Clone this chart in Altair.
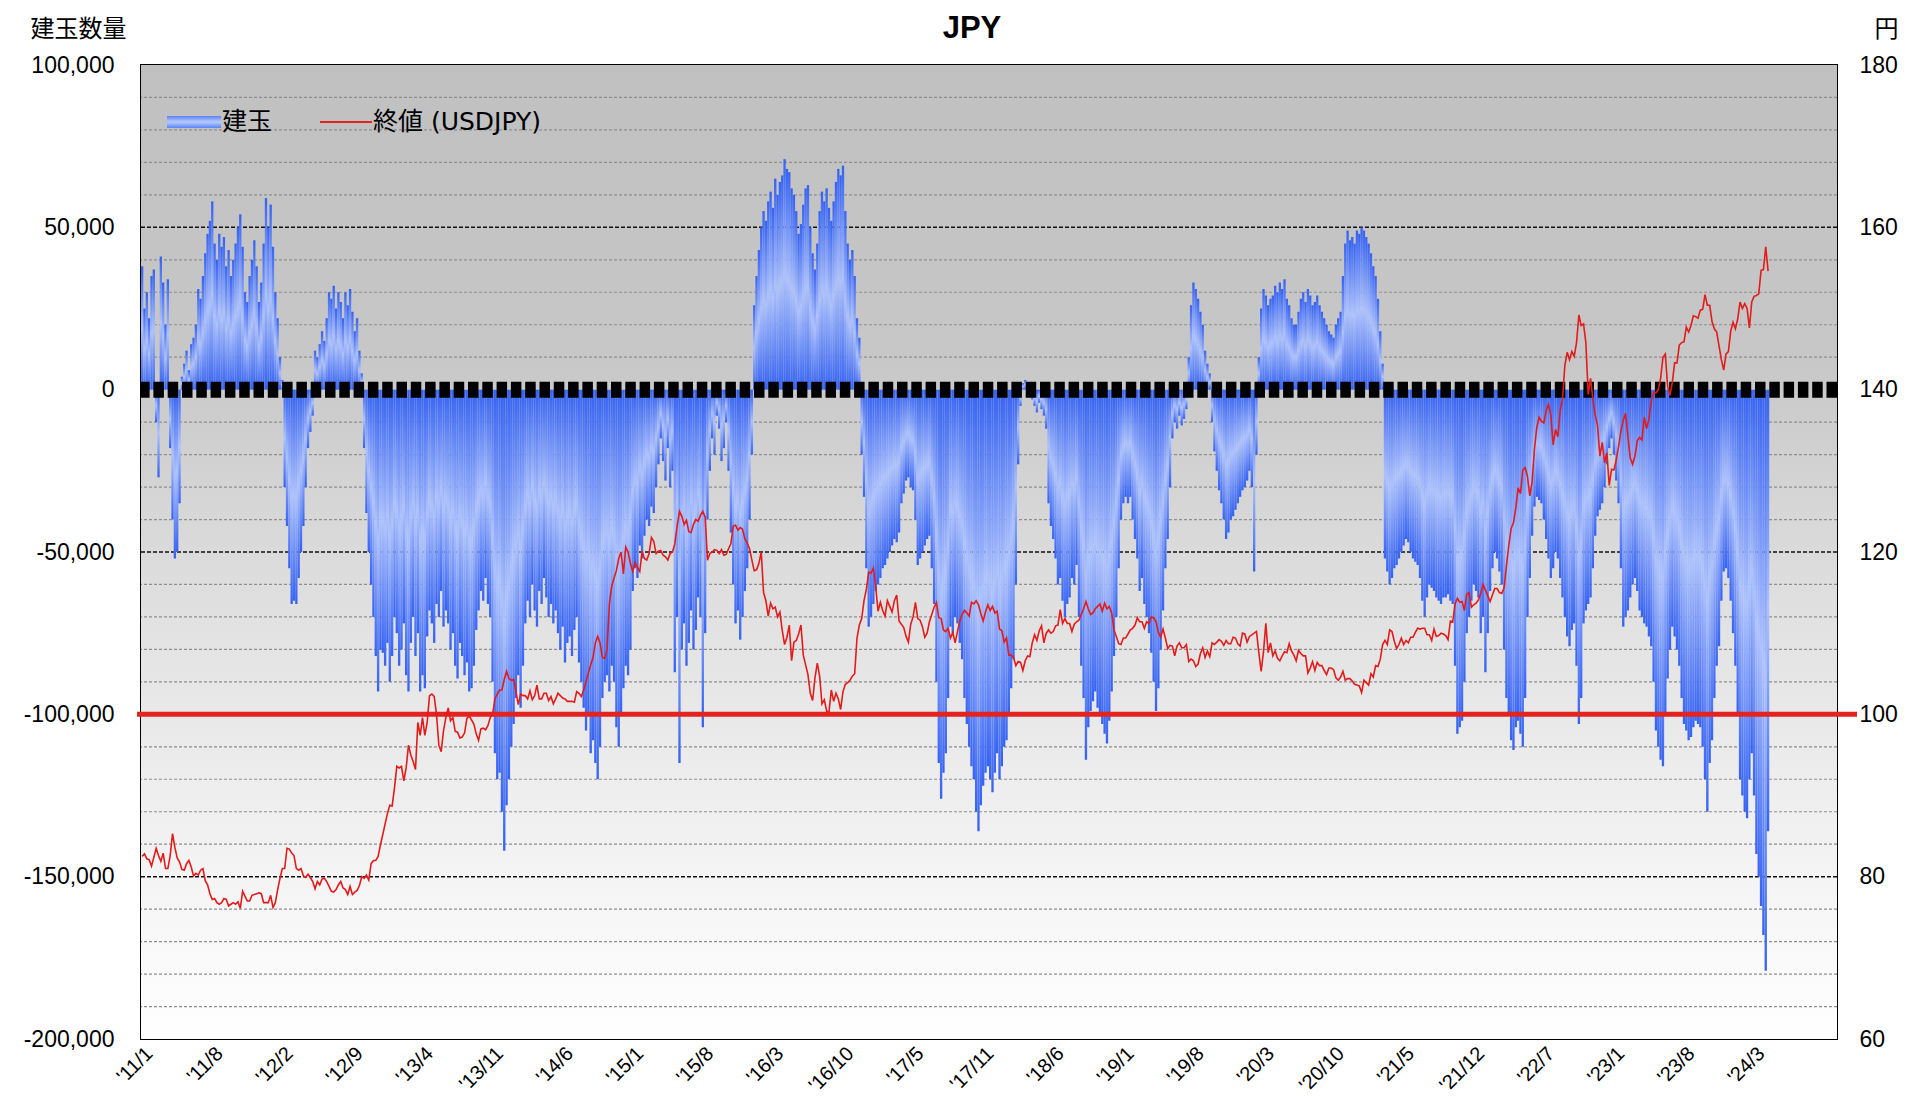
import json
import altair as alt
import pandas as pd

# ---- data (net positions in thousands of contracts, weekly, from 2011-01-04) ----
pos_2011 = [38,25,30,22,35,37,-10,-27,41,33,20,34,-18,-40,-52,-50,-35,4,8,12,6,14,16,20,31,28,35,42,48,52,58,45,40,48,44,47,38,43,35,40,45,50,54,44,30,27,35,40,46,38,27,33]
pos_2012 = [45,59,50,57,44,30,22,10,3,-30,-42,-55,-66,-65,-66,-58,-50,-42,-30,-18,-13,-8,12,10,14,18,15,22,30,28,32,25,30,27,22,30,26,31,24,18,22,12,5,-18,-38,-50,-60,-70,-82,-93,-80,-81]
pos_2013 = [-85,-78,-90,-82,-70,-75,-85,-80,-72,-88,-93,-78,-70,-82,-75,-93,-88,-92,-76,-68,-72,-78,-66,-70,-62,-73,-68,-72,-80,-75,-85,-89,-78,-82,-88,-84,-93,-92,-85,-74,-68,-62,-65,-58,-66,-70,-90,-112,-120,-118,-130,-142,-128]
pos_2014 = [-120,-110,-103,-95,-88,-98,-85,-72,-65,-70,-60,-68,-73,-62,-66,-58,-64,-70,-66,-72,-68,-75,-80,-73,-84,-78,-76,-82,-74,-70,-84,-90,-98,-105,-100,-112,-108,-115,-120,-110,-95,-90,-88,-93,-85,-90,-104,-110,-100,-92,-85,-88]
pos_2015 = [-80,-62,-55,-58,-48,-52,-45,-40,-42,-36,-38,-30,-23,-15,-22,-28,-18,-30,-25,-87,-70,-115,-80,-72,-85,-78,-68,-80,-74,-64,-70,-104,-75,-40,-25,-15,-20,-8,-12,-22,-18,-10,-25,-44,-60,-72,-68,-77,-70,-62,-55,-40]
pos_2016 = [-20,26,35,43,50,55,52,58,61,56,65,60,64,66,71,68,67,62,60,55,48,51,57,62,63,50,42,37,45,55,61,58,62,56,52,58,64,68,66,69,55,45,40,43,35,22,16,-20,-33,-55,-73,-70]
pos_2017 = [-66,-62,-60,-58,-55,-54,-52,-50,-48,-46,-47,-44,-35,-32,-28,-27,-30,-31,-40,-54,-52,-50,-48,-46,-45,-55,-66,-90,-115,-126,-118,-112,-95,-73,-75,-70,-72,-78,-83,-95,-103,-110,-116,-120,-130,-136,-128,-122,-118,-116,-120,-124]
pos_2018 = [-118,-112,-120,-116,-110,-108,-100,-92,-83,-60,-23,-5,2,3,1,2,-3,-5,-7,-4,-6,-8,-12,-35,-42,-46,-52,-60,-58,-65,-70,-66,-64,-58,-60,-54,-70,-85,-95,-114,-104,-99,-96,-93,-98,-100,-103,-106,-109,-102,-93,-82]
pos_2019 = [-70,-55,-40,-35,-33,-35,-33,-40,-46,-52,-62,-58,-66,-70,-75,-81,-90,-99,-92,-80,-68,-55,-46,-30,-15,-10,-12,-8,-11,-9,-6,10,26,33,31,28,24,20,12,8,5,-10,-19,-25,-31,-35,-40,-46,-44,-40,-39,-37,-35]
pos_2020 = [-33,-31,-30,-28,-25,-30,-56,-20,10,25,31,29,26,28,29,32,30,33,31,34,28,26,22,20,20,24,28,30,27,31,29,26,27,29,26,24,22,20,18,17,16,20,22,24,35,45,49,46,47,45,49,48]
pos_2021 = [50,49,47,45,42,38,35,28,18,8,-52,-56,-60,-58,-55,-54,-52,-50,-48,-46,-47,-50,-52,-53,-54,-58,-65,-70,-64,-60,-61,-62,-64,-65,-66,-64,-64,-63,-65,-66,-85,-106,-104,-102,-90,-75,-70,-65,-60,-62,-64,-75]
pos_2022 = [-70,-87,-75,-62,-55,-50,-52,-56,-60,-80,-95,-100,-108,-111,-104,-102,-106,-110,-95,-70,-58,-45,-36,-33,-34,-35,-40,-46,-52,-58,-55,-50,-52,-58,-64,-70,-76,-79,-74,-72,-85,-103,-95,-72,-68,-66,-64,-55,-45,-39,-37,-35]
pos_2023 = [-30,-23,-18,-15,-20,-28,-35,-55,-73,-70,-68,-64,-60,-58,-62,-68,-70,-72,-73,-76,-79,-90,-105,-110,-114,-116,-100,-89,-80,-73,-76,-80,-85,-95,-103,-105,-108,-107,-104,-102,-103,-104,-110,-120,-130,-115,-108,-95,-85,-79,-65,-56]
pos_2024 = [-55,-58,-65,-75,-85,-100,-120,-125,-130,-132,-120,-112,-125,-143,-150,-159,-168,-179,-136]

# ---- USDJPY weekly close (yen) ----
jpy_2011 = [82.5,82.8,82.2,82.1,81.3,82.4,83.5,82.6,81.9,82.9,81.0,81.0,82.6,85.3,83.6,82.3,81.8,80.9,80.8,81.6,82.0,81.2,80.1,80.4,80.2,80.8,81.0,79.5,79.0,77.9,77.2,77.3,76.8,76.6,76.8,77.3,77.2,76.4,76.6,76.8,76.6,76.9,76.1,78.2,77.6,77.0,77.0,77.7,77.8,77.9,78.0,77.9]
jpy_2012 = [76.8,76.8,76.8,77.7,76.2,76.8,78.4,79.8,81.0,81.0,83.5,83.4,82.9,82.6,81.0,80.8,81.0,80.1,79.9,80.3,79.9,79.4,78.5,79.4,79.0,79.7,79.8,79.4,78.8,78.2,78.1,78.4,79.0,79.4,78.6,78.4,77.8,78.8,77.8,78.1,78.3,78.9,80.0,79.8,80.2,79.6,81.6,82.0,82.0,82.5,83.9,85.2]
jpy_2013 = [86.5,87.8,88.8,88.7,90.9,93.6,93.4,93.6,91.8,93.4,96.2,95.0,94.2,93.2,99.0,97.4,99.6,97.4,99.0,102.3,102.5,102.2,100.0,96.2,95.4,98.0,99.6,100.8,99.2,99.6,97.9,97.8,97.1,97.2,97.7,99.5,99.8,99.3,98.8,97.6,96.8,98.2,98.3,98.1,98.6,99.6,100.0,101.9,102.5,103.0,103.0,104.3,105.3]
jpy_2014 = [104.4,104.2,104.3,102.8,101.2,102.5,102.3,102.3,101.9,102.9,101.8,102.3,103.6,101.9,101.9,102.6,102.6,101.7,102.2,101.3,101.9,102.6,102.3,102.0,101.9,101.6,101.6,101.6,101.5,102.8,102.6,102.2,103.0,104.0,105.1,106.1,107.0,108.8,109.6,108.8,107.0,106.9,108.0,113.6,115.8,116.8,117.7,119.2,120.0,117.3,120.6,120.0]
jpy_2015 = [118.6,117.6,118.7,118.1,117.6,120.1,119.2,119.0,119.8,121.8,121.3,119.8,120.1,120.2,119.6,119.4,119.0,119.8,120.0,121.0,123.2,125.0,124.4,123.4,123.9,122.5,122.4,123.4,124.0,123.8,124.5,125.0,124.3,119.0,119.8,120.0,120.3,120.2,119.8,120.3,119.6,119.7,120.4,121.0,123.2,123.3,122.7,123.0,122.8,121.6,121.1,120.4]
jpy_2016 = [119.0,117.7,117.8,118.6,120.0,115.0,114.0,112.1,113.7,113.0,113.2,112.0,112.6,110.3,108.6,109.5,111.0,106.6,108.9,109.1,109.9,111.0,107.3,106.1,104.9,102.6,101.7,104.5,106.3,104.7,101.3,101.8,100.4,100.3,103.0,101.6,102.6,101.9,100.6,102.8,103.7,103.9,104.2,104.7,105.0,109.4,111.0,111.8,114.0,115.4,117.5,117.4]
jpy_2017 = [118.0,115.8,112.7,113.8,112.8,112.1,114.0,113.3,112.6,114.0,114.7,111.5,111.1,110.7,109.6,108.9,111.1,112.0,113.8,111.8,111.6,110.8,109.5,110.0,111.4,112.3,113.2,113.8,111.9,111.8,110.4,110.2,110.6,109.4,110.1,108.8,110.2,111.5,112.3,112.8,112.5,112.1,113.8,113.6,114.0,113.5,112.4,111.5,112.6,113.5,112.8,113.3]
jpy_2018 = [112.5,112.7,110.5,110.3,108.9,109.4,107.3,107.3,107.0,106.0,106.5,106.4,105.4,106.6,107.2,107.1,108.8,109.8,109.1,110.3,110.9,108.8,110.0,110.4,110.0,110.2,110.9,111.0,112.9,111.2,111.8,111.2,111.2,110.2,111.1,111.4,111.6,112.3,113.0,113.9,113.0,112.3,112.5,113.0,113.3,113.6,112.7,113.7,113.0,113.3,112.5,110.4]
jpy_2019 = [109.6,108.7,108.6,109.4,109.4,109.9,110.4,110.6,111.0,111.9,111.4,111.4,110.6,111.4,111.2,112.0,111.9,111.4,110.1,109.5,110.5,109.4,108.1,108.5,108.4,107.2,108.4,108.8,108.2,108.2,108.6,106.5,106.8,106.6,105.9,106.2,107.5,108.2,107.0,107.8,107.1,108.8,108.6,108.9,109.2,109.0,108.5,109.1,108.7,108.7,109.5,109.4,108.7]
jpy_2020 = [108.4,110.0,109.9,108.9,109.6,109.8,110.0,110.2,107.6,105.3,107.7,111.2,107.6,108.8,107.2,107.8,106.9,106.6,107.2,107.7,107.6,108.7,107.8,107.3,106.6,107.9,107.5,107.2,107.2,105.1,105.7,106.5,105.4,106.4,106.0,106.0,105.4,104.9,105.7,105.7,105.5,104.5,104.2,104.6,105.3,104.2,104.4,104.4,104.1,103.7,103.6,103.5]
jpy_2021 = [102.7,104.2,103.9,103.6,105.0,104.6,106.0,105.9,106.8,108.6,109.1,108.6,110.4,110.2,109.0,108.1,108.6,109.4,108.6,109.1,108.8,109.5,109.5,110.1,110.6,110.5,110.6,110.6,109.8,109.8,109.1,110.5,109.6,109.7,110.0,109.9,109.7,109.2,111.5,111.4,113.6,114.3,113.8,113.9,112.8,114.8,115.0,113.2,113.5,113.7,114.1,114.9]
jpy_2022 = [116.0,115.3,114.6,113.9,114.7,115.5,115.5,115.0,114.9,115.6,118.3,120.8,122.9,123.6,125.4,127.9,127.2,130.1,130.4,129.3,126.9,128.7,132.7,135.4,136.6,136.1,135.9,137.4,138.2,136.9,133.2,135.1,134.2,137.4,138.8,143.0,144.6,143.7,144.7,144.1,145.8,149.2,147.9,148.1,145.8,139.4,141.4,138.8,136.9,135.6,131.8,133.5]
jpy_2023 = [131.0,132.2,128.2,130.2,130.1,131.3,133.0,134.9,136.2,137.1,134.2,131.6,130.8,131.8,133.7,134.1,133.8,136.6,135.2,136.4,138.6,139.7,139.6,140.0,141.4,144.0,144.4,140.4,139.3,140.9,143.3,143.3,145.5,145.8,145.9,147.7,147.1,147.9,149.1,149.0,148.8,149.8,149.9,151.7,150.4,150.4,148.4,147.5,147.1,145.4,143.7,142.4]
jpy_2024 = [144.4,144.7,147.2,148.3,147.5,148.7,150.8,150.0,150.6,150.0,147.6,150.8,151.5,151.6,151.8,154.7,154.8,157.6,154.6]

x_tick_labels = ["'11/1", "'11/8", "'12/2", "'12/9", "'13/4", "'13/11", "'14/6", "'15/1",
                 "'15/8", "'16/3", "'16/10", "'17/5", "'17/11", "'18/6", "'19/1", "'19/8",
                 "'20/3", "'20/10", "'21/5", "'21/12", "'22/7", "'23/1", "'23/8", "'24/3"]
left_ticks = [-200000, -150000, -100000, -50000, 0, 50000, 100000]
right_ticks = [60, 80, 100, 120, 140, 160, 180]
start_date = "2011-01-04"

pos_years = [pos_2011, pos_2012, pos_2013, pos_2014, pos_2015, pos_2016, pos_2017,
             pos_2018, pos_2019, pos_2020, pos_2021, pos_2022, pos_2023, pos_2024]
jpy_years = [jpy_2011, jpy_2012, jpy_2013, jpy_2014, jpy_2015, jpy_2016, jpy_2017,
             jpy_2018, jpy_2019, jpy_2020, jpy_2021, jpy_2022, jpy_2023, jpy_2024]
for a, b in zip(pos_years, jpy_years):
    assert len(a) == len(b), (len(a), len(b))
positions = [v * 1000 for lst in pos_years for v in lst]
usdjpy = [v for lst in jpy_years for v in lst]
n = len(positions)

df = pd.DataFrame({
    "i": list(range(n)),
    "date": pd.date_range(start_date, periods=n, freq="7D").strftime("%Y-%m-%d"),
    "pos": positions,
    "jpy": usdjpy,
})
df["x0"] = df["i"] - 0.5
df["x1"] = df["i"] + 0.5
df["z"] = 0

W, H = 1696, 974
NUM_FONT = "Liberation Sans"
JP_FONT = "Noto Sans CJK JP"
MIX_FONT = "DejaVu Sans, Noto Sans CJK JP"

xscale = alt.Scale(domain=[-0.5, 725.5], nice=False, zero=False)
yscale = alt.Scale(domain=[-200000, 100000], nice=False, zero=False)
rscale = alt.Scale(domain=[60, 180], nice=False, zero=False)

xaxis = alt.Axis(values=list(range(0, 30 * len(x_tick_labels), 30)),
                 labelExpr=json.dumps(x_tick_labels) + "[round(datum.value / 30)]",
                 labelAngle=-45, labelAlign="right", labelBaseline="top",
                 labelFont=NUM_FONT, labelFontSize=20, labelColor="#000",
                 labelPadding=4, labelOverlap=False, labelFlush=False,
                 ticks=False, domain=False, grid=False, title=None)
laxis = alt.Axis(values=left_ticks,
                 labelExpr="(datum.value < 0 ? '-' : '') + format(abs(datum.value), ',')",
                 labelFont=NUM_FONT, labelFontSize=23, labelColor="#000", labelPadding=27,
                 ticks=False, domain=False, grid=False,
                 title="建玉数量", titleAngle=0, titleX=-111, titleY=-36,
                 titleAlign="left", titleBaseline="middle", titleFont=JP_FONT,
                 titleFontSize=24, titleFontWeight="normal", titleColor="#000")
raxis = alt.Axis(values=right_ticks, orient="right",
                 labelFont=NUM_FONT, labelFontSize=23, labelColor="#000", labelPadding=22,
                 ticks=False, domain=False, grid=False,
                 title="円", titleAngle=0, titleX=49, titleY=-36,
                 titleAlign="center", titleBaseline="middle", titleFont=JP_FONT,
                 titleFontSize=24, titleFontWeight="normal", titleColor="#000")

bg_grad = alt.Gradient(gradient="linear", x1=0, y1=0, x2=0, y2=1, stops=[
    alt.GradientStop(offset=0, color="#c0c0c0"),
    alt.GradientStop(offset=0.3, color="#c7c7c7"),
    alt.GradientStop(offset=0.6, color="#e4e4e4"),
    alt.GradientStop(offset=1, color="#ffffff")])
bar_grad = alt.Gradient(gradient="linear", x1=0, y1=0, x2=0, y2=1, stops=[
    alt.GradientStop(offset=0, color="#3562f2"),
    alt.GradientStop(offset=0.5, color="#adc2ff"),
    alt.GradientStop(offset=1, color="#3562f2")])

one = alt.Data(values=[{}])

bg = alt.Chart(one).mark_rect(color=bg_grad).encode(
    x=alt.value(0), x2=alt.value(W), y=alt.value(0), y2=alt.value(H))

minor_vals = [v * 1000 for v in range(-190, 100, 10) if v % 50 != 0]
major_vals = [-150000, -50000, 50000]
grid_minor = alt.Chart(pd.DataFrame({"g": minor_vals})).mark_rule(
    color="#8e8e8e", strokeDash=[3, 2], strokeWidth=1.2).encode(
    y=alt.Y("g:Q", scale=yscale, axis=laxis))
grid_major = alt.Chart(pd.DataFrame({"g": major_vals})).mark_rule(
    color="#111111", strokeDash=[4, 2], strokeWidth=1.5).encode(
    y=alt.Y("g:Q", scale=yscale, axis=laxis))

bars = alt.Chart(df).mark_rect(color=bar_grad, strokeWidth=0).encode(
    x=alt.X("x0:Q", scale=xscale, axis=xaxis), x2="x1",
    y=alt.Y("pos:Q", scale=yscale, axis=laxis), y2="z")

zero_rule = alt.Chart(pd.DataFrame({"g": [0]})).mark_rule(
    color="#000000", strokeWidth=16, strokeDash=[10.5, 3.8]).encode(
    y=alt.Y("g:Q", scale=yscale, axis=laxis))

red_rule = alt.Chart(pd.DataFrame({"g": [-100000]})).mark_rule(
    color="#e3231f", strokeWidth=5).encode(
    y=alt.Y("g:Q", scale=yscale, axis=laxis), x=alt.value(-4), x2=alt.value(W + 20))

leg_grad = alt.Gradient(gradient="linear", x1=0, y1=0, x2=0, y2=1, stops=[
    alt.GradientStop(offset=0, color="#5a84f5"),
    alt.GradientStop(offset=0.5, color="#b8cbff"),
    alt.GradientStop(offset=1, color="#5a84f5")])
leg_box = alt.Chart(one).mark_rect(color=leg_grad).encode(
    x=alt.value(26), x2=alt.value(80), y=alt.value(51), y2=alt.value(63))
leg_t1 = alt.Chart(one).mark_text(text="建玉", font=JP_FONT, fontSize=25, align="left",
                                  baseline="middle", color="#000").encode(
    x=alt.value(81), y=alt.value(57))
leg_line = alt.Chart(one).mark_rule(color="#e3231f", strokeWidth=2).encode(
    x=alt.value(179), x2=alt.value(231), y=alt.value(57))
leg_t2 = alt.Chart(one).mark_text(text="終値 (USDJPY)", font=MIX_FONT, fontSize=25,
                                  align="left", baseline="middle", color="#000").encode(
    x=alt.value(232), y=alt.value(57))
title_t = alt.Chart(one).mark_text(text="JPY", font=NUM_FONT, fontSize=31, fontWeight="bold",
                                   align="center", baseline="middle", color="#000").encode(
    x=alt.value(831), y=alt.value(-36))

left = alt.layer(bg, grid_minor, grid_major, bars, zero_rule, red_rule,
                 leg_box, leg_t1, leg_line, leg_t2, title_t)

line = alt.Chart(df).mark_line(color="#e31b1b", strokeWidth=1.6).encode(
    x=alt.X("i:Q", scale=xscale, axis=xaxis),
    y=alt.Y("jpy:Q", scale=rscale, axis=raxis))

chart = alt.layer(left, line).resolve_scale(y="independent").properties(
    width=W, height=H,
    padding={"left": 133, "top": 57, "right": 63, "bottom": 62},
    autosize=alt.AutoSizeParams(type="none"),
    background="#ffffff",
).configure_view(stroke="#000000", strokeWidth=2)

chart.save("out.html", embed_options={"renderer": "svg", "actions": False})
